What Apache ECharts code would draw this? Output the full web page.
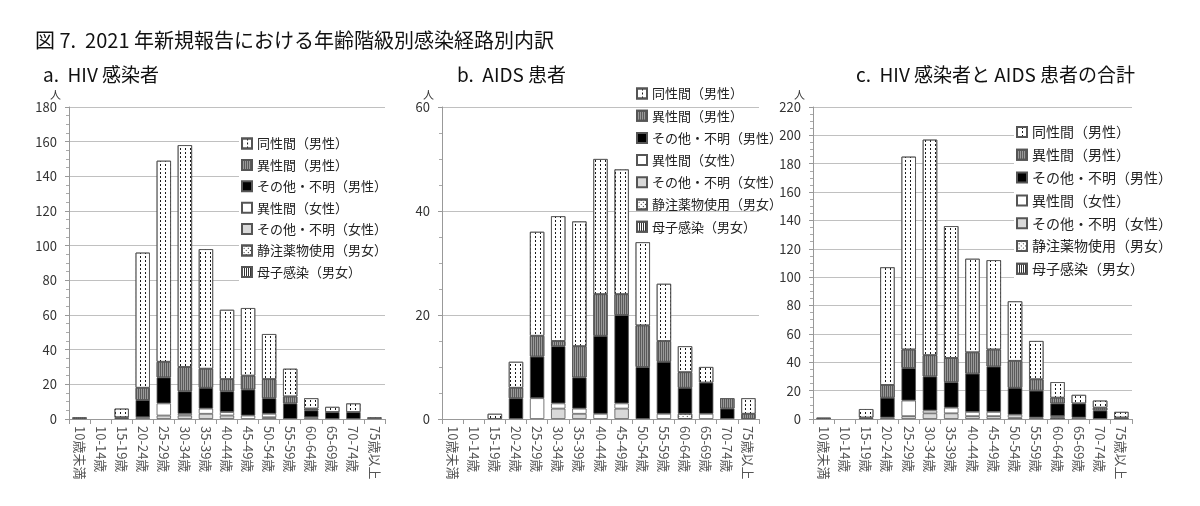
<!DOCTYPE html>
<html>
<head>
<meta charset="utf-8">
<script src="https://cdn.jsdelivr.net/npm/echarts@6/dist/echarts.min.js"></script>
<style>
html,body{margin:0;padding:0;background:#fff;}
#chart{width:1200px;height:506px;}
</style>
</head>
<body>
<div id="chart"></div>
<script>
const categories = ['10歳未満','10-14歳','15-19歳','20-24歳','25-29歳','30-34歳','35-39歳','40-44歳','45-49歳','50-54歳','55-59歳','60-64歳','65-69歳','70-74歳','75歳以上'];
const legendNames = ['同性間（男性）','異性間（男性）','その他・不明（男性）','異性間（女性）','その他・不明（女性）','静注薬物使用（男女）','母子感染（男女）'];
const yTicksA = [0,180,20];
const yTicksB = [0,60,20];
const yTicksC = [0,220,20];

// a. HIV感染者
const hivMsm      = [0,0,5,78,116,128,69,40,39,26,16,6,3,5,1];
const hivHeteroM  = [0,0,0,7,9,14,11,7,8,11,4,1,0,0,0];
const hivOtherM   = [0,0,1,10,15,13,12,12,15,9,9,4,4,4,0];
const hivHeteroF  = [0,0,0,0,7,1,3,2,2,2,0,0,0,0,0];
const hivOtherF   = [0,0,0,1,2,2,3,2,0,1,0,1,0,0,0];
const hivIdu      = [0,0,0,0,0,0,0,0,0,0,0,0,0,0,0];
const hivMtc      = [1,0,0,0,0,0,0,0,0,0,0,0,0,0,0];

// b. AIDS患者
const aidsMsm     = [0,0,1,5,20,24,24,26,24,16,11,5,3,0,3];
const aidsHeteroM = [0,0,0,2,4,1,6,8,4,8,4,3,0,2,1];
const aidsOtherM  = [0,0,0,4,8,11,6,15,17,10,10,5,6,2,0];
const aidsHeteroF = [0,0,0,0,4,1,1,1,1,0,1,0,1,0,0];
const aidsOtherF  = [0,0,0,0,0,2,1,0,2,0,0,0,0,0,0];
const aidsIdu     = [0,0,0,0,0,0,0,0,0,0,0,1,0,0,0];
const aidsMtc     = [0,0,0,0,0,0,0,0,0,0,0,0,0,0,0];

// c. 合計
const totMsm      = [0,0,6,83,136,152,93,66,63,42,27,11,6,5,4];
const totHeteroM  = [0,0,0,9,13,15,17,15,12,19,8,4,0,2,1];
const totOtherM   = [0,0,1,14,23,24,18,27,32,19,19,9,10,6,0];
const totHeteroF  = [0,0,0,0,11,2,4,3,3,2,1,0,1,0,0];
const totOtherF   = [0,0,0,1,2,4,4,2,2,1,0,1,0,0,0];
const totIdu      = [0,0,0,0,0,0,0,0,0,0,0,1,0,0,0];
const totMtc      = [1,0,0,0,0,0,0,0,0,0,0,0,0,0,0];

const FONT = '"Noto Sans CJK JP", "Noto Sans", sans-serif';
const BORDER = '#555';

const styles = {
  '同性間（男性）': {color:'#ffffff', decal:{symbol:'rect', symbolSize:1, color:'#1a1a1a', dashArrayX:[1,4], dashArrayY:[2,2], rotation:0}},
  '異性間（男性）': {color:'#9a9a9a', decal:{symbol:'rect', symbolSize:1, color:'#5a5a5a', dashArrayX:[1,1], dashArrayY:[1,0], rotation:0}},
  'その他・不明（男性）': {color:'#000000'},
  '異性間（女性）': {color:'#ffffff'},
  'その他・不明（女性）': {color:'#d9d9d9'},
  '静注薬物使用（男女）': {color:'#ffffff', decal:{symbol:'rect', symbolSize:1, color:'#333', dashArrayX:[1,2], dashArrayY:[1,2], rotation:Math.PI/4}},
  '母子感染（男女）': {color:'#ffffff', decal:{symbol:'rect', symbolSize:1, color:'#333', dashArrayX:[1,1], dashArrayY:[1,0], rotation:0}}
};

function z(arr){ return arr.map(v => v === 0 ? '-' : v); }

function panelSeries(idx, stack, d){
  // bottom to top
  const order = [
    ['母子感染（男女）', d.mtc],
    ['静注薬物使用（男女）', d.idu],
    ['その他・不明（女性）', d.otherF],
    ['異性間（女性）', d.heteroF],
    ['その他・不明（男性）', d.otherM],
    ['異性間（男性）', d.heteroM],
    ['同性間（男性）', d.msm]
  ];
  return order.map(([name, arr]) => {
    const s = styles[name];
    const itemStyle = {color:s.color, borderColor:BORDER, borderWidth:0.8};
    if (s.decal) itemStyle.decal = s.decal;
    return {
      type:'bar', name, stack, xAxisIndex:idx, yAxisIndex:idx,
      data:z(arr), barWidth:'68%', itemStyle,
      emphasis:{disabled:true}, animation:false
    };
  });
}

const grids = [
  {left:69, right:815, top:107, bottom:87},
  {left:442, right:441, top:107, bottom:87},
  {left:813, right:68, top:107, bottom:87}
];

function xAxis(i){
  return {
    type:'category', gridIndex:i, data:categories,
    axisLine:{lineStyle:{color:'#999', width:1}},
    axisTick:{show:true, length:5, lineStyle:{color:'#999'}},
    axisLabel:{rotate:-90, interval:0, fontSize:13, color:'#555', margin:7, fontFamily:FONT}
  };
}
function yAxis(i, t){
  return {
    type:'value', gridIndex:i, min:t[0], max:t[1], interval:t[2],
    name:'人', nameLocation:'end', nameGap:3,
    nameTextStyle:{fontSize:11, color:'#333', align:'right', padding:[0,8,0,0], fontFamily:FONT},
    axisLine:{show:true, lineStyle:{color:'#999'}},
    axisTick:{show:true, length:4, lineStyle:{color:'#999'}},
    minorTick:{show:true, splitNumber:4, length:3, lineStyle:{color:'#aaa'}},
    splitLine:{show:true, lineStyle:{color:'#c0c0c0', width:1}},
    axisLabel:{fontSize:13, color:'#333', margin:12, fontFamily:FONT}
  };
}

function legend(left, top, gap, fs, bg){
  return {
    orient:'vertical', left, top, data:legendNames,
    itemWidth:10, itemHeight:10, itemGap:gap,
    backgroundColor:bg, padding:[2,3,2,2], z:1,
    textStyle:{fontSize:fs, color:'#222', fontFamily:FONT, lineHeight:fs+2},
    selectedMode:false, icon:'rect'
  };
}

const titleStyle = {fontSize:19, fontWeight:'normal', color:'#111', fontFamily:FONT};

const option = {
  backgroundColor:'#fff',
  animation:false,
  textStyle:{fontFamily:FONT},
  title:[
    {text:'図 7.  2021 年新規報告における年齢階級別感染経路別内訳', left:30, top:25, textStyle:Object.assign({}, titleStyle, {fontSize:20})},
    {text:'a.  HIV 感染者', left:38, top:60, textStyle:titleStyle},
    {text:'b.  AIDS 患者', left:452, top:60, textStyle:titleStyle},
    {text:'c.  HIV 感染者と AIDS 患者の合計', left:851, top:60, textStyle:titleStyle}
  ],
  grid:grids,
  xAxis:[xAxis(0), xAxis(1), xAxis(2)],
  yAxis:[yAxis(0, yTicksA), yAxis(1, yTicksB), yAxis(2, yTicksC)],
  legend:[
    legend(239, 134, 6.4, 13, '#fff'),
    legend(634, 84, 7.2, 13, 'transparent'),
    legend(1014, 122, 6.8, 14, '#fff')
  ],
  series:[
    ...panelSeries(0, 'a', {msm:hivMsm, heteroM:hivHeteroM, otherM:hivOtherM, heteroF:hivHeteroF, otherF:hivOtherF, idu:hivIdu, mtc:hivMtc}),
    ...panelSeries(1, 'b', {msm:aidsMsm, heteroM:aidsHeteroM, otherM:aidsOtherM, heteroF:aidsHeteroF, otherF:aidsOtherF, idu:aidsIdu, mtc:aidsMtc}),
    ...panelSeries(2, 'c', {msm:totMsm, heteroM:totHeteroM, otherM:totOtherM, heteroF:totHeteroF, otherF:totOtherF, idu:totIdu, mtc:totMtc})
  ]
};

const chart = echarts.init(document.getElementById('chart'), null, {renderer:'canvas'});
chart.setOption(option);
</script>
</body>
</html>
